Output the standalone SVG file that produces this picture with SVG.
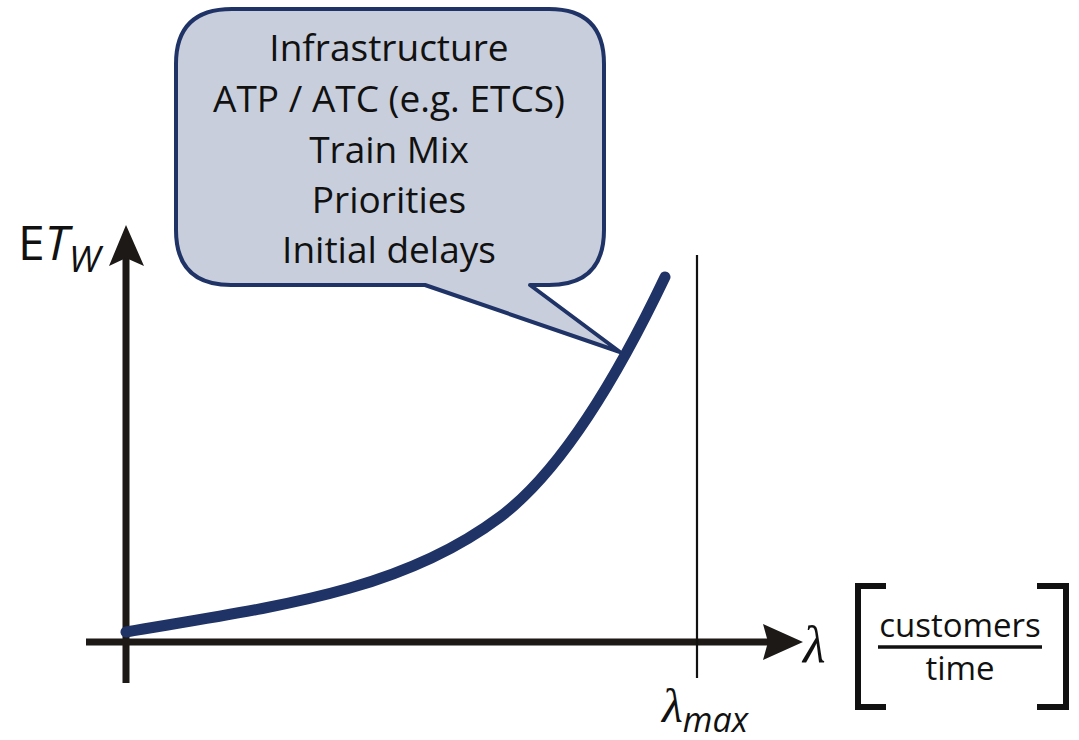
<svg xmlns="http://www.w3.org/2000/svg" width="1079" height="740" viewBox="0 0 1079 740">
  <style>
    .sans { font-family: "Open Sans", "Noto Sans", "Liberation Sans", sans-serif; fill: #111; }
    .greek { font-family: "Liberation Serif", "DejaVu Serif", serif; font-style: italic; fill: #111; }
    .axis { stroke: #1c1917; stroke-width: 7; fill: none; }
    .ink { fill: #1c1917; }
  </style>
  <rect width="1079" height="740" fill="#ffffff"/>

  <!-- callout bubble -->
  <g id="callout">
    <path d="M232,9 H549 Q604,9 604,64 V230 Q604,285 549,285 H530 L620,352 L425,285 H231 Q176,285 176,230 V64 Q176,9 232,9 Z"
          fill="#c8cedb" stroke="#1f3366" stroke-width="4" stroke-linejoin="round"/>
    <g class="sans" font-size="37" text-anchor="middle">
      <text x="389" y="61">Infrastructure</text>
      <text x="389" y="112">ATP / ATC (e.g. ETCS)</text>
      <text x="389" y="163">Train Mix</text>
      <text x="389" y="213">Priorities</text>
      <text x="389" y="263">Initial delays</text>
    </g>
  </g>

  <!-- axes -->
  <g id="connectors">
    <line class="axis" x1="126" y1="683" x2="126" y2="258"/>
    <path class="ink" d="M126,225 L144,266 L126,258 L109,266 Z"/>
    <line class="axis" x1="86" y1="642" x2="770" y2="642"/>
    <path class="ink" d="M803,642 L763,660 L768,642 L763,624 Z"/>
    <line x1="697" y1="255" x2="697" y2="678" stroke="#111" stroke-width="2.2"/>
  </g>

  <!-- delay curve -->
  <g id="curve">
    <path d="M126,632 C276,606.5 400,592 500,517 C560,472 615,382 665,277"
          fill="none" stroke="#1f3366" stroke-width="11" stroke-linecap="round"/>
  </g>

  <!-- y-axis label -->
  <g id="y-label">
    <text class="sans" x="18" y="260" font-size="48">E<tspan font-style="italic">T</tspan><tspan font-style="italic" font-size="37" dy="12">W</tspan></text>
  </g>

  <!-- x-axis label with unit -->
  <g id="x-label">
    <text class="greek" x="803" y="662" font-size="52">λ</text>
    <path d="M886,586 H858 V707 H886" fill="none" stroke="#111" stroke-width="6"/>
    <path d="M1037,586 H1066 V707 H1037" fill="none" stroke="#111" stroke-width="6"/>
    <text class="sans" x="960" y="637" font-size="33" text-anchor="middle">customers</text>
    <line x1="878" y1="647" x2="1042" y2="647" stroke="#111" stroke-width="3.5"/>
    <text class="sans" x="960" y="680" font-size="33" text-anchor="middle">time</text>
  </g>

  <!-- capacity limit label -->
  <g id="lambda-max">
    <text class="greek" x="662" y="722" font-size="48">λ<tspan class="sans" font-style="italic" font-size="34" dy="10">max</tspan></text>
  </g>
</svg>
